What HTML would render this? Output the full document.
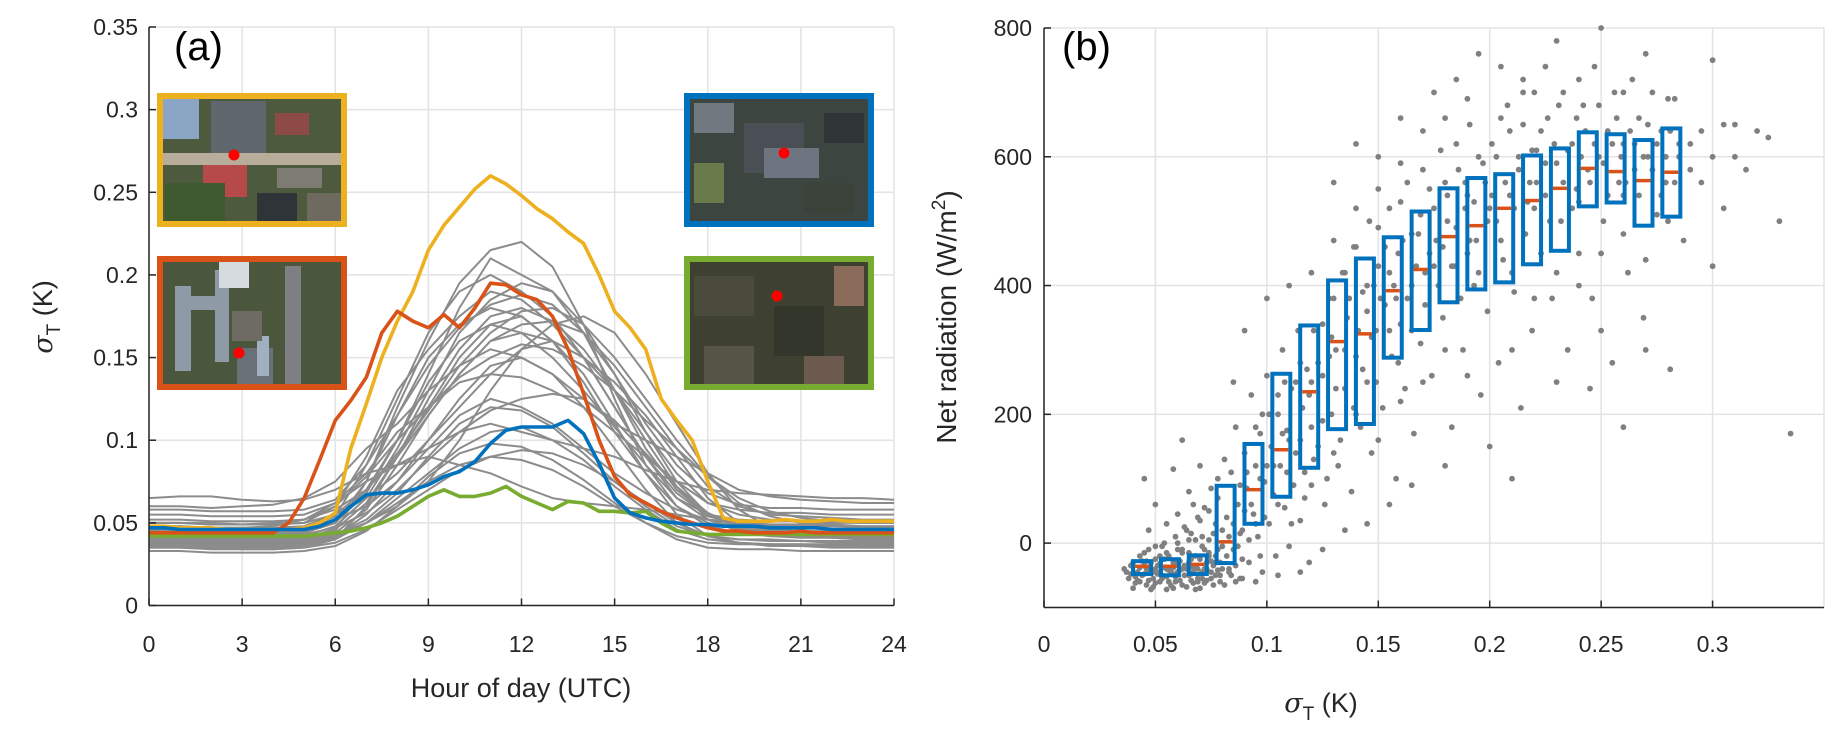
<!DOCTYPE html>
<html><head><meta charset="utf-8"><style>
html,body{margin:0;padding:0;background:#fff;}
svg{display:block;font-family:"Liberation Sans",sans-serif;}
</style></head><body>
<svg id="fig" width="1841" height="738" viewBox="0 0 1841 738" xmlns="http://www.w3.org/2000/svg">
<g id="pa"></g>
<g id="pb"></g>
</svg>
<script>
// ---------- Panel (a) data ----------
const hoursHalf = [];
for (let i = 0; i <= 48; i++) hoursHalf.push(i * 0.5);
const hoursFull = [0,1,2,3,4,5,6,7,8,9,10,11,12,13,14,15,16,17,18,19,20,21,22,23,24];
const aXTicks = [0,3,6,9,12,15,18,21,24];
const aYTicks = [0,0.05,0.1,0.15,0.2,0.25,0.3,0.35];
const aYTickLabels = ["0","0.05","0.1","0.15","0.2","0.25","0.3","0.35"];
const yellowSeries = [0.048,0.048,0.047,0.047,0.047,0.046,0.046,0.046,0.046,0.046,0.047,0.05,0.056,0.095,0.122,0.15,0.172,0.19,0.215,0.23,0.241,0.252,0.26,0.255,0.248,0.24,0.234,0.226,0.219,0.2,0.178,0.168,0.155,0.125,0.112,0.1,0.075,0.053,0.051,0.051,0.051,0.052,0.051,0.051,0.052,0.051,0.051,0.051,0.051];
const redSeries = [0.044,0.044,0.044,0.044,0.044,0.044,0.044,0.044,0.044,0.05,0.065,0.088,0.112,0.124,0.138,0.165,0.178,0.172,0.168,0.176,0.168,0.18,0.195,0.194,0.188,0.185,0.175,0.155,0.128,0.1,0.078,0.067,0.062,0.057,0.053,0.05,0.047,0.045,0.045,0.044,0.044,0.044,0.045,0.044,0.044,0.044,0.044,0.044,0.044];
const blueSeries = [0.047,0.047,0.046,0.046,0.046,0.046,0.046,0.046,0.046,0.046,0.046,0.048,0.052,0.06,0.067,0.068,0.068,0.07,0.073,0.078,0.081,0.087,0.098,0.106,0.108,0.108,0.108,0.112,0.104,0.086,0.065,0.056,0.053,0.051,0.05,0.049,0.049,0.048,0.048,0.048,0.047,0.047,0.047,0.047,0.046,0.046,0.046,0.046,0.046];
const greenSeries = [0.042,0.042,0.042,0.042,0.042,0.042,0.042,0.042,0.042,0.042,0.042,0.043,0.044,0.045,0.047,0.05,0.054,0.06,0.066,0.07,0.066,0.066,0.068,0.072,0.066,0.062,0.058,0.063,0.062,0.057,0.057,0.056,0.057,0.05,0.045,0.044,0.043,0.043,0.043,0.043,0.043,0.043,0.043,0.043,0.043,0.043,0.043,0.043,0.043];
const greySeries = [
[0.040,0.040,0.039,0.039,0.039,0.040,0.045,0.075,0.120,0.160,0.195,0.215,0.220,0.205,0.170,0.125,0.085,0.060,0.048,0.044,0.042,0.041,0.041,0.040,0.040],
[0.045,0.044,0.044,0.043,0.043,0.044,0.050,0.070,0.100,0.140,0.180,0.210,0.200,0.190,0.165,0.130,0.095,0.070,0.055,0.050,0.048,0.047,0.046,0.045,0.045],
[0.035,0.035,0.034,0.034,0.034,0.035,0.040,0.060,0.090,0.120,0.150,0.170,0.175,0.160,0.140,0.110,0.080,0.055,0.042,0.038,0.037,0.036,0.036,0.035,0.035],
[0.050,0.050,0.049,0.049,0.049,0.050,0.060,0.090,0.130,0.155,0.175,0.190,0.185,0.170,0.150,0.120,0.090,0.065,0.055,0.052,0.051,0.051,0.050,0.050,0.050],
[0.060,0.060,0.059,0.060,0.061,0.065,0.075,0.095,0.110,0.130,0.145,0.155,0.150,0.140,0.125,0.110,0.100,0.090,0.080,0.070,0.066,0.064,0.063,0.062,0.062],
[0.065,0.066,0.066,0.064,0.063,0.064,0.070,0.080,0.085,0.095,0.105,0.110,0.105,0.100,0.095,0.090,0.082,0.075,0.070,0.068,0.067,0.066,0.065,0.065,0.064],
[0.038,0.038,0.037,0.037,0.037,0.038,0.042,0.055,0.075,0.100,0.125,0.145,0.150,0.140,0.120,0.095,0.070,0.050,0.042,0.040,0.039,0.039,0.038,0.038,0.038],
[0.042,0.042,0.041,0.041,0.041,0.042,0.048,0.065,0.095,0.130,0.165,0.185,0.195,0.190,0.170,0.140,0.105,0.075,0.055,0.047,0.044,0.043,0.043,0.042,0.042],
[0.047,0.047,0.046,0.046,0.046,0.047,0.052,0.060,0.075,0.095,0.115,0.125,0.120,0.110,0.095,0.080,0.068,0.058,0.052,0.050,0.049,0.048,0.048,0.047,0.047],
[0.040,0.040,0.040,0.039,0.039,0.040,0.044,0.058,0.085,0.115,0.140,0.160,0.165,0.160,0.150,0.135,0.115,0.090,0.065,0.050,0.044,0.042,0.041,0.041,0.040],
[0.055,0.055,0.054,0.054,0.054,0.055,0.062,0.080,0.105,0.120,0.135,0.140,0.138,0.130,0.120,0.105,0.090,0.075,0.062,0.058,0.056,0.056,0.055,0.055,0.055],
[0.036,0.036,0.035,0.035,0.035,0.036,0.040,0.050,0.065,0.080,0.095,0.105,0.108,0.100,0.088,0.072,0.058,0.046,0.040,0.038,0.037,0.037,0.036,0.036,0.036],
[0.044,0.044,0.043,0.043,0.043,0.044,0.050,0.075,0.115,0.150,0.170,0.180,0.175,0.160,0.135,0.105,0.080,0.060,0.050,0.046,0.045,0.045,0.044,0.044,0.044],
[0.050,0.050,0.050,0.049,0.049,0.050,0.055,0.065,0.080,0.100,0.120,0.140,0.155,0.160,0.150,0.130,0.105,0.080,0.062,0.055,0.052,0.051,0.051,0.050,0.050],
[0.039,0.039,0.038,0.038,0.038,0.039,0.043,0.052,0.068,0.090,0.110,0.120,0.118,0.108,0.092,0.075,0.060,0.048,0.042,0.040,0.040,0.039,0.039,0.039,0.039],
[0.046,0.046,0.045,0.045,0.045,0.046,0.054,0.085,0.125,0.165,0.190,0.200,0.190,0.175,0.150,0.120,0.090,0.068,0.054,0.049,0.047,0.047,0.046,0.046,0.046],
[0.033,0.033,0.032,0.032,0.032,0.033,0.036,0.045,0.060,0.078,0.092,0.098,0.096,0.088,0.076,0.062,0.050,0.040,0.035,0.034,0.034,0.033,0.033,0.033,0.033],
[0.052,0.052,0.051,0.051,0.051,0.052,0.058,0.070,0.090,0.115,0.140,0.160,0.170,0.172,0.165,0.145,0.120,0.095,0.072,0.060,0.055,0.054,0.053,0.052,0.052],
[0.043,0.043,0.042,0.042,0.042,0.043,0.047,0.056,0.070,0.088,0.105,0.118,0.125,0.128,0.125,0.112,0.092,0.072,0.056,0.048,0.045,0.044,0.044,0.043,0.043],
[0.048,0.048,0.047,0.047,0.048,0.052,0.062,0.075,0.085,0.090,0.085,0.080,0.072,0.065,0.062,0.060,0.058,0.055,0.052,0.050,0.049,0.049,0.048,0.048,0.048],
[0.041,0.041,0.040,0.040,0.040,0.041,0.046,0.062,0.090,0.125,0.155,0.175,0.180,0.172,0.155,0.130,0.100,0.072,0.052,0.045,0.043,0.042,0.042,0.041,0.041],
[0.037,0.037,0.036,0.036,0.036,0.037,0.041,0.050,0.062,0.075,0.085,0.090,0.088,0.082,0.072,0.060,0.050,0.042,0.038,0.037,0.037,0.037,0.037,0.037,0.037],
[0.058,0.058,0.057,0.057,0.057,0.058,0.064,0.085,0.115,0.145,0.168,0.182,0.188,0.182,0.165,0.14,0.11,0.085,0.068,0.061,0.059,0.059,0.058,0.058,0.058],
[0.04,0.04,0.04,0.039,0.039,0.04,0.043,0.05,0.06,0.075,0.1,0.13,0.155,0.17,0.175,0.165,0.14,0.11,0.08,0.058,0.047,0.043,0.041,0.04,0.04],
[0.045,0.045,0.044,0.044,0.044,0.045,0.05,0.068,0.1,0.135,0.16,0.17,0.165,0.15,0.13,0.108,0.085,0.065,0.052,0.047,0.046,0.045,0.045,0.045,0.045],
[0.05,0.05,0.049,0.049,0.05,0.052,0.06,0.078,0.1,0.12,0.138,0.15,0.158,0.155,0.145,0.13,0.112,0.095,0.078,0.065,0.057,0.053,0.051,0.05,0.05],
[0.035,0.035,0.035,0.034,0.034,0.035,0.038,0.046,0.058,0.07,0.082,0.09,0.094,0.092,0.085,0.075,0.062,0.05,0.042,0.038,0.036,0.036,0.035,0.035,0.035],
[0.048,0.048,0.047,0.047,0.047,0.048,0.055,0.07,0.092,0.118,0.145,0.165,0.178,0.18,0.17,0.15,0.125,0.1,0.078,0.062,0.054,0.05,0.049,0.048,0.048]
];

// ---------- Panel (b) data ----------
const bXTicks = [0,0.05,0.1,0.15,0.2,0.25,0.3];
const bXTickLabels = ["0","0.05","0.1","0.15","0.2","0.25","0.3"];
const bYTicks = [0,200,400,600,800];
const bYTickLabels = ["0","200","400","600","800"];
const boxSigma = [0.044,0.0565,0.069,0.0815,0.094,0.1065,0.119,0.1315,0.144,0.1565,0.169,0.1815,0.194,0.2065,0.219,0.2315,0.244,0.2565,0.269,0.2815];
const boxQ1 = [-48,-50,-48,-31,30,72,117,177,185,288,331,374,394,405,433,454,523,529,493,507];
const boxMedian = [-36,-36,-33,2,83,145,235,313,325,392,425,476,493,520,532,551,582,577,563,576];
const boxQ3 = [-28,-25,-19,89,154,263,338,408,442,475,515,551,567,573,602,613,638,635,626,644];
const scatterA = [
[0.036,-40],[0.038,-55],[0.04,-30],[0.041,-62],[0.042,-45],[0.043,-20],[0.044,-50],[0.045,-35],[0.046,-65],[0.047,-10],[0.048,-42],[0.049,-55],[0.05,-25],[0.051,-48],[0.052,-60],[0.053,-5],[0.054,-38],[0.055,-52],[0.056,-20],[0.057,-66],[0.058,-30],[0.059,10],[0.06,-45],[0.061,-58],[0.062,-15],[0.063,-35],[0.064,20],[0.065,-50],[0.066,-25],[0.067,-62],[0.068,5],[0.069,-40],[0.07,35],[0.071,-55],[0.072,-10],[0.073,-30],[0.074,50],[0.075,-45],[0.076,15],[0.077,-20],[0.078,70],[0.079,-50],[0.08,-5],[0.04,-70],[0.043,-38],[0.046,-28],[0.049,-68],[0.052,-32],[0.055,-72],[0.058,-48],[0.061,-28],[0.064,-68],[0.067,-38],[0.07,-70],[0.073,-58],[0.076,-65],[0.079,-30],[0.05,60],[0.055,30],[0.06,45],[0.065,80],[0.045,100],[0.07,120],[0.062,160],[0.058,115],
[0.039,-48],[0.042,-58],[0.047,-45],[0.05,-40],[0.053,-50],[0.056,-42],[0.059,-60],[0.062,-40],[0.066,-48],[0.069,-55],[0.072,-40],[0.075,-28],[0.078,-42],[0.06,-10],[0.065,5],[0.068,-20],[0.071,10],[0.074,-15],[0.077,30],[0.054,0],
[0.082,40],[0.083,-40],[0.084,110],[0.085,-10],[0.086,180],[0.087,60],[0.088,-55],[0.089,20],[0.09,140],[0.091,85],[0.092,-30],[0.093,230],[0.094,45],[0.095,120],[0.096,10],[0.097,170],[0.098,-45],[0.099,95],[0.1,260],[0.101,30],[0.102,150],[0.103,75],[0.104,-20],[0.105,200],[0.106,120],[0.107,300],[0.108,55],[0.109,175],[0.11,-5],[0.111,240],[0.112,90],[0.113,140],[0.114,330],[0.115,35],[0.116,210],[0.117,110],[0.118,270],[0.119,-30],[0.12,180],[0.085,250],[0.09,330],[0.095,-60],[0.1,380],[0.105,-50],[0.11,400],[0.115,-45],[0.12,420],[0.088,90],[0.098,200],[0.108,250],
[0.121,330],[0.123,150],[0.125,260],[0.126,60],[0.128,380],[0.129,200],[0.131,300],[0.132,120],[0.134,420],[0.135,240],[0.136,350],[0.138,80],[0.139,460],[0.14,290],[0.142,180],[0.143,390],[0.145,250],[0.146,500],[0.147,140],[0.149,330],[0.15,430],[0.152,210],[0.153,370],[0.155,520],[0.156,290],[0.158,100],[0.159,450],[0.16,340],[0.162,240],[0.163,560],[0.165,400],[0.166,170],[0.168,480],[0.169,310],[0.13,560],[0.14,620],[0.15,600],[0.16,660],[0.125,-10],[0.135,20],[0.145,30],[0.155,60],[0.165,90],[0.148,400],[0.158,380],[0.128,290],
[0.171,420],[0.173,550],[0.174,260],[0.176,470],[0.178,610],[0.179,350],[0.181,500],[0.183,180],[0.184,430],[0.186,580],[0.188,300],[0.189,520],[0.191,650],[0.193,400],[0.194,470],[0.196,230],[0.198,560],[0.199,360],[0.201,620],[0.203,500],[0.204,280],[0.206,440],[0.208,680],[0.209,540],[0.211,390],[0.213,600],[0.214,210],[0.216,480],[0.218,560],[0.219,330],[0.175,700],[0.185,720],[0.195,760],[0.205,740],[0.215,700],[0.18,120],[0.2,150],[0.21,100],[0.19,450],[0.2,520],
[0.221,610],[0.223,450],[0.225,540],[0.226,660],[0.228,380],[0.23,590],[0.232,500],[0.233,700],[0.235,300],[0.237,620],[0.239,550],[0.24,450],[0.242,680],[0.244,580],[0.246,380],[0.247,740],[0.249,600],[0.251,500],[0.253,640],[0.255,280],[0.256,700],[0.258,560],[0.26,620],[0.262,420],[0.264,720],[0.265,580],[0.267,660],[0.269,350],[0.271,600],[0.273,700],[0.275,510],[0.277,640],[0.279,560],[0.281,270],[0.283,690],[0.285,600],[0.287,470],[0.23,780],[0.25,800],[0.27,760],[0.245,240],[0.26,180],
[0.29,580],[0.295,640],[0.3,750],[0.305,520],[0.31,600],[0.315,580],[0.32,640],[0.325,630],[0.33,500],[0.335,170],[0.3,430],[0.305,650]
];
const scatterB = [
[0.037,-45],[0.039,-35],[0.041,-52],[0.043,-60],[0.044,-28],[0.045,-48],[0.046,-40],[0.047,-58],[0.048,-30],[0.049,-45],[0.05,-62],[0.051,-35],[0.052,-45],[0.053,-55],[0.054,-25],[0.055,-40],[0.056,-60],[0.057,-45],[0.058,-38],[0.059,-52],[0.06,-30],[0.061,-42],[0.062,-65],[0.063,-50],[0.064,-40],[0.065,-30],[0.066,-58],[0.067,-45],[0.068,-35],[0.069,-60],[0.07,-25],[0.071,-45],[0.072,-62],[0.073,-40],[0.074,-20],[0.075,-55],[0.076,-35],[0.077,-50],[0.078,-10],[0.079,-60],[0.08,-40],[0.081,-65],[0.082,-20],[0.083,10],[0.084,-50],[0.085,30],[0.086,-35],[0.087,-5],[0.088,15],[0.089,-25],[0.09,50],[0.06,0],[0.063,25],[0.066,15],[0.069,40],[0.072,55],[0.075,85],[0.078,100],[0.081,130],[0.068,-72],[0.058,-70],[0.048,-72],[0.062,-10],[0.065,-15],[0.071,-5],[0.074,5],[0.077,-30],[0.08,20],[0.083,-45],[0.086,-60],[0.089,-55],[0.092,5],[0.095,30],[0.097,-20],[0.055,-15],[0.052,-20],[0.05,-5],[0.045,-15],[0.047,20],[0.067,60]
];
const scatterC = [
[0.091,110],[0.093,60],[0.095,180],[0.097,100],[0.099,40],[0.101,200],[0.103,120],[0.105,60],[0.107,170],[0.109,110],[0.111,30],[0.113,250],[0.115,160],[0.117,70],[0.119,230],[0.121,130],[0.123,280],[0.125,190],[0.127,100],[0.129,320],[0.131,240],[0.133,160],[0.135,300],[0.137,380],[0.139,210],[0.141,330],[0.143,270],[0.145,400],[0.147,320],[0.149,250],[0.151,380],[0.153,460],[0.155,330],[0.157,400],[0.159,280],[0.161,470],[0.163,380],[0.165,330],[0.167,430],[0.169,510],[0.171,370],[0.173,450],[0.175,520],[0.177,400],[0.179,460],[0.181,540],[0.183,430],[0.185,490],[0.187,380],[0.189,560],[0.191,470],[0.193,530],[0.195,420],[0.197,590],[0.199,500],[0.1,120],[0.105,230],[0.11,160],[0.115,280],[0.12,250],[0.125,340],[0.13,380],[0.135,420],[0.14,460],[0.145,360],[0.15,490],[0.155,420],[0.16,530],[0.165,480],[0.17,580],[0.175,430],[0.18,560],[0.185,620],[0.19,540],[0.195,600],[0.12,90],[0.13,140],[0.14,200],[0.15,160],[0.16,220],[0.17,250],[0.18,300],[0.19,260],[0.13,470],[0.14,520],[0.15,550],[0.16,590],[0.17,640],[0.18,660],[0.19,690]
];
const scatterD = [
[0.201,540],[0.203,600],[0.205,470],[0.207,560],[0.209,640],[0.211,520],[0.213,580],[0.215,650],[0.217,530],[0.219,610],[0.221,560],[0.223,640],[0.225,590],[0.227,500],[0.229,620],[0.231,680],[0.233,560],[0.235,610],[0.237,520],[0.239,660],[0.241,600],[0.243,640],[0.245,560],[0.247,620],[0.249,680],[0.251,590],[0.253,540],[0.255,620],[0.257,660],[0.259,600],[0.261,560],[0.263,640],[0.265,620],[0.267,540],[0.269,600],[0.271,650],[0.273,580],[0.275,620],[0.277,540],[0.279,600],[0.281,640],[0.283,560],[0.285,620],[0.21,420],[0.22,380],[0.23,420],[0.24,400],[0.25,450],[0.26,480],[0.27,440],[0.28,500],[0.22,700],[0.24,720],[0.26,700],[0.28,690],[0.21,300],[0.23,250],[0.25,330],[0.27,300],[0.29,620],[0.295,560],[0.3,600],[0.31,650],[0.22,520],[0.24,530],[0.26,540],[0.205,660],[0.215,720],[0.225,740]
];
const scatterPts = scatterA.concat(scatterB, scatterC, scatterD);

const NS = "http://www.w3.org/2000/svg";
function mk(tag, attrs, parent, text) {
  const e = document.createElementNS(NS, tag);
  for (const k in attrs) e.setAttribute(k, attrs[k]);
  if (text !== undefined) e.textContent = text;
  parent.appendChild(e);
  return e;
}
const AXC = "#262626", GRID = "#e3e3e3";

// ---------- Panel (a) ----------
const pa = document.getElementById("pa");
const ax0 = 149, ax1 = 894, ay0 = 605.5, ay1 = 27;
const axX = h => ax0 + (h / 24) * (ax1 - ax0);
const axY = v => ay0 - (v / 0.35) * (ay0 - ay1);

aXTicks.forEach(t => {
  const g = mk("line", {x1: axX(t), x2: axX(t), y1: ay1, y2: ay0, stroke: GRID, "stroke-width": 1.5}, pa);
  
  
});
aYTicks.forEach(t => {
  const g = mk("line", {x1: ax0, x2: ax1, y1: axY(t), y2: axY(t), stroke: GRID, "stroke-width": 1.5}, pa);
  
  
});

function pathFrom(xs, ys) {
  return xs.map((x, i) => (i ? "L" : "M") + axX(x).toFixed(1) + "," + axY(ys[i]).toFixed(1)).join("");
}
greySeries.forEach(s => {
  const p = mk("path", {d: pathFrom(hoursFull, s), fill: "none", stroke: "#8c8c8c", "stroke-width": 2, "stroke-linejoin": "round"}, pa);
  
  
});
[[greenSeries, "#77ac30", "green-station-line"], [yellowSeries, "#edb120", "yellow-station-line"], [redSeries, "#d95319", "red-station-line"], [blueSeries, "#0072bd", "blue-station-line"]].forEach(([s, c, n]) => {
  const p = mk("path", {d: pathFrom(hoursHalf, s), fill: "none", stroke: c, "stroke-width": 3.6, "stroke-linejoin": "round"}, pa);
  
  
});

let l = mk("line", {x1: ax0, x2: ax0, y1: ay1, y2: ay0, stroke: AXC, "stroke-width": 1.5}, pa);


l = mk("line", {x1: ax0, x2: ax1, y1: ay0, y2: ay0, stroke: AXC, "stroke-width": 1.5}, pa);


aXTicks.forEach(t => {
  const tk = mk("line", {x1: axX(t), x2: axX(t), y1: ay0, y2: ay0 - 7, stroke: AXC, "stroke-width": 1.5}, pa);
  
  
  const tl = mk("text", {x: axX(t), y: 652, "text-anchor": "middle", "font-size": 23, fill: AXC}, pa, String(t));
  
  
});
aYTicks.forEach((t, i) => {
  const tk = mk("line", {x1: ax0, x2: ax0 + 7, y1: axY(t), y2: axY(t), stroke: AXC, "stroke-width": 1.5}, pa);
  
  
  const tl = mk("text", {x: 138, y: axY(t) + 8, "text-anchor": "end", "font-size": 23, fill: AXC}, pa, aYTickLabels[i]);
  
  
});
let t = mk("text", {x: 521, y: 697, "text-anchor": "middle", "font-size": 27, fill: AXC}, pa, "Hour of day (UTC)");


t = mk("text", {transform: "translate(52,317) rotate(-90)", "text-anchor": "middle", "font-size": 27, fill: AXC}, pa);
t.innerHTML = '<tspan font-family="DejaVu Serif" font-style="italic">σ</tspan><tspan font-size="19" dy="8">T</tspan><tspan dy="-8"> (K)</tspan>';


t = mk("text", {x: 174, y: 60, "font-size": 40, fill: "#000"}, pa, "(a)");



function inset(x, y, color, name, base, shapes, dot) {
  const g = mk("g", {}, pa);
  
  
  mk("rect", {x: x, y: y, width: 190, height: 134, fill: base}, g);
  shapes.forEach(s => mk("rect", {x: x + s[0], y: y + s[1], width: s[2], height: s[3], fill: s[4]}, g));
  mk("circle", {cx: x + dot[0], cy: y + dot[1], r: 5.5, fill: "#ff0000"}, g);
  mk("rect", {x: x + 3, y: y + 3, width: 184, height: 128, fill: "none", stroke: color, "stroke-width": 6}, g);
}
inset(157, 93, "#edb120", "inset-yellow-site", "#4d5a3e", [[6,6,36,40,"#8aa6c4"],[54,8,55,52,"#5f666c"],[118,20,34,22,"#8e4a44"],[5,60,185,12,"#b8ad9a"],[46,72,44,32,"#b64a4a"],[120,75,45,20,"#7d7b72"],[8,90,60,40,"#3f5a2e"],[100,100,40,30,"#2f3438"],[150,100,35,30,"#6f6a60"]], [77,62]);
inset(157, 256, "#d95319", "inset-red-site", "#4a573d", [[18,30,16,85,"#8e9aa6"],[58,14,14,92,"#8e9aa6"],[18,40,50,14,"#8e9aa6"],[62,4,30,28,"#d6dbe0"],[128,10,16,124,"#7d7f82"],[80,92,36,40,"#687078"],[100,80,12,40,"#a0b0c0"],[75,55,30,30,"#6e6b62"]], [82,97]);
inset(684, 93, "#0072bd", "inset-blue-site", "#3c4540", [[10,10,40,30,"#707880"],[60,30,60,50,"#4a4f56"],[80,55,55,30,"#6d7680"],[10,70,30,40,"#6a7a4a"],[140,20,40,30,"#2f3437"],[120,90,50,30,"#3a423a"]], [100,60]);
inset(684, 256, "#77ac30", "inset-green-site", "#3e4131", [[10,20,60,40,"#4a4b3a"],[90,50,50,50,"#33362a"],[150,10,30,40,"#8a6a58"],[120,100,40,30,"#6d5a4e"],[20,90,50,40,"#545545"]], [93,40]);

// ---------- Panel (b) ----------
const pb = document.getElementById("pb");
const bx0 = 1044, bx1 = 1824, by0 = 607.5, by1 = 28;
const bxX = s => bx0 + (s / 0.35) * (bx1 - bx0);
const byY = r => by0 - ((r + 100) / 900) * (by0 - by1);

[0,0.05,0.1,0.15,0.2,0.25,0.3,0.35].forEach(s => {
  const g = mk("line", {x1: bxX(s), x2: bxX(s), y1: by1, y2: by0, stroke: GRID, "stroke-width": 1.5}, pb);
  
  
});
[-100,0,200,400,600,800].forEach(r => {
  const g = mk("line", {x1: bx0, x2: bx1, y1: byY(r), y2: byY(r), stroke: GRID, "stroke-width": 1.5}, pb);
  
  
});
const dots = mk("g", {fill: "#808080"}, pb);


scatterPts.forEach(p => {
  const c = mk("circle", {cx: bxX(p[0]).toFixed(1), cy: byY(p[1]).toFixed(1), r: 2.9}, dots);
  
  
});
boxSigma.forEach((s, i) => {
  const x = bxX(s);
  const b = mk("rect", {x: x - 9, y: byY(boxQ3[i]), width: 18, height: byY(boxQ1[i]) - byY(boxQ3[i]), fill: "none", stroke: "#0072bd", "stroke-width": 4}, pb);
  
  
  const m = mk("line", {x1: x - 7, x2: x + 7, y1: byY(boxMedian[i]), y2: byY(boxMedian[i]), stroke: "#d95319", "stroke-width": 3.5}, pb);
  
  
});
l = mk("line", {x1: bx0, x2: bx0, y1: by1, y2: by0, stroke: AXC, "stroke-width": 1.5}, pb);


l = mk("line", {x1: bx0, x2: bx1, y1: by0, y2: by0, stroke: AXC, "stroke-width": 1.5}, pb);


bXTicks.forEach((s, i) => {
  const tk = mk("line", {x1: bxX(s), x2: bxX(s), y1: by0, y2: by0 - 7, stroke: AXC, "stroke-width": 1.5}, pb);
  
  
  const tl = mk("text", {x: bxX(s), y: 652, "text-anchor": "middle", "font-size": 23, fill: AXC}, pb, bXTickLabels[i]);
  
  
});
bYTicks.forEach((r, i) => {
  const tk = mk("line", {x1: bx0, x2: bx0 + 7, y1: byY(r), y2: byY(r), stroke: AXC, "stroke-width": 1.5}, pb);
  
  
  const tl = mk("text", {x: 1032, y: byY(r) + 8, "text-anchor": "end", "font-size": 23, fill: AXC}, pb, bYTickLabels[i]);
  
  
});
t = mk("text", {x: 1321, y: 712, "text-anchor": "middle", "font-size": 27, fill: AXC}, pb);
t.innerHTML = '<tspan font-family="DejaVu Serif" font-style="italic">σ</tspan><tspan font-size="19" dy="8">T</tspan><tspan dy="-8"> (K)</tspan>';


t = mk("text", {transform: "translate(956,317) rotate(-90)", "text-anchor": "middle", "font-size": 28, fill: AXC}, pb);
t.innerHTML = 'Net radiation (W/m<tspan font-size="19" dy="-11">2</tspan><tspan dy="11">)</tspan>';


t = mk("text", {x: 1062, y: 60, "font-size": 40, fill: "#000"}, pb, "(b)");


</script>
</body></html>
